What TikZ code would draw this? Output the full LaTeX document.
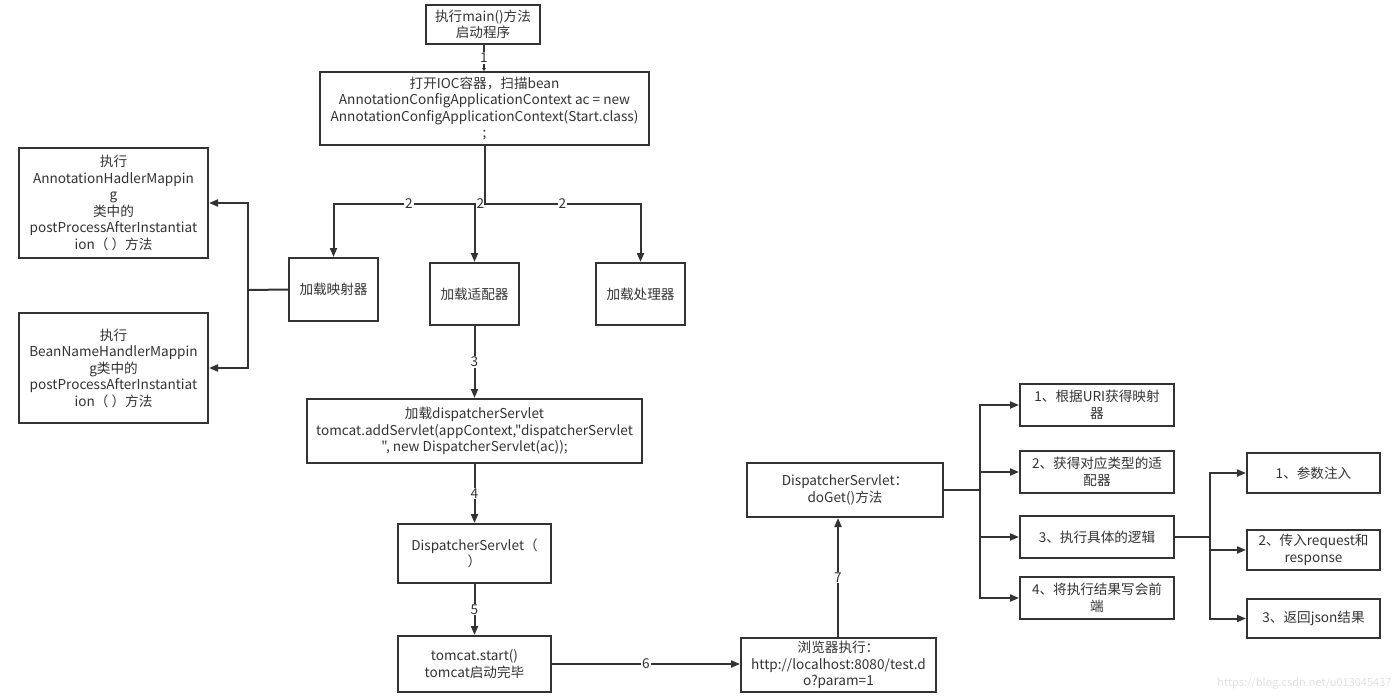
\documentclass[tikz,border=0pt]{standalone}
\usepackage{fontspec}
\setmainfont{Noto Sans CJK SC}[Ligatures=TeXOff]
\usetikzlibrary{arrows.meta}
\definecolor{ln}{HTML}{333333}
\definecolor{tx}{HTML}{333333}
\tikzset{
  box/.style={draw=ln, line width=2pt, fill=white, inner sep=0pt, align=center,
    text=tx, font=\fontsize{13.6}{16.5}\selectfont},
  conn/.style={draw=ln, line width=2pt, -{Triangle[length=9pt,width=7pt]}},
  plain/.style={draw=ln, line width=2pt},
  lbl/.style={fill=white, inner sep=1pt, text=tx, font=\fontsize{13.6}{14}\selectfont},
}
\begin{document}
\begin{tikzpicture}[x=1pt,y=-1pt]
\useasboundingbox (0,0) rectangle (1400,699);
% boxes
\node[box, minimum width=114, minimum height=39] (main) at (483,24.5) {执行main()方法\\启动程序};
\node[box, minimum width=329, minimum height=73] (ioc) at (484.5,108.5) {打开IOC容器，扫描bean\\AnnotationConfigApplicationContext ac = new\\AnnotationConfigApplicationContext(Start.class)\\;};
\node[box, minimum width=189, minimum height=110] (l1) at (113.5,203) {执行\\AnnotationHadlerMappin\\g\\类中的\\postProcessAfterInstantiat\\ion（ ）方法};
\node[box, minimum width=189, minimum height=110] (l2) at (113.5,368) {执行\\BeanNameHandlerMappin\\g类中的\\postProcessAfterInstantiat\\ion（ ）方法};
\node[box, minimum width=89, minimum height=63] (map) at (333.5,289.5) {加载映射器};
\node[box, minimum width=89, minimum height=62] (adp) at (474.5,294) {加载适配器};
\node[box, minimum width=89, minimum height=62] (proc) at (640.5,294) {加载处理器};
\node[box, minimum width=335, minimum height=64] (ds) at (474.5,431) {加载dispatcherServlet\\tomcat.addServlet(appContext,"dispatcherServlet\\", new DispatcherServlet(ac));};
\node[box, minimum width=153, minimum height=59] (dsc) at (474.5,553.5) {DispatcherServlet（\\）};
\node[box, minimum width=153, minimum height=56] (tom) at (474.5,664) {tomcat.start()\\tomcat启动完毕};
\node[box, minimum width=195, minimum height=54] (br) at (838.5,665) {浏览器执行：\\http://localhost:8080/test.d\\o?param=1};
\node[box, minimum width=196, minimum height=54] (doget) at (845,490) {DispatcherServlet：\\doGet()方法};
\node[box, minimum width=154, minimum height=42] (r1) at (1097,405) {1、根据URI获得映射\\器};
\node[box, minimum width=154, minimum height=42] (r2) at (1097,472) {2、获得对应类型的适\\配器};
\node[box, minimum width=154, minimum height=42] (r3) at (1097,537) {3、执行具体的逻辑};
\node[box, minimum width=154, minimum height=42] (r4) at (1097,598) {4、将执行结果写会前\\端};
\node[box, minimum width=133, minimum height=40] (s1) at (1313.5,473) {1、参数注入};
\node[box, minimum width=133, minimum height=40] (s2) at (1313.5,550) {2、传入request和\\response};
\node[box, minimum width=133, minimum height=39] (s3) at (1313.5,618.5) {3、返回json结果};
% junction coordinates
\coordinate (j2) at (484.5,204);
\coordinate (jl) at (248,290);
\coordinate (jr) at (980,490);
\coordinate (js) at (1210,537);
% connectors
\draw[plain, -{Triangle[length=3pt,width=4pt]}] (main.south -| 484,0) -- node[lbl]{1} (ioc.north -| 484,0);
\draw[conn] (ioc.south) -- (j2) -- node[lbl, pos=0.5]{2} (j2 -| map.north) -- (map.north);
\draw[conn] (ioc.south) -- (j2) -- (j2 -| adp.north) node[lbl, pos=1, xshift=6pt]{2} -- (adp.north);
\draw[conn] (ioc.south) -- (j2) -- node[lbl, pos=0.5]{2} (j2 -| proc.north) -- (proc.north);
\draw[plain] (map.west) -- (jl);
\draw[conn] (jl) -- (jl |- l1.east) -- (l1.east);
\draw[conn] (jl) -- (jl |- l2.east) -- (l2.east);
\draw[conn] (adp.south) -- node[lbl]{3} (ds.north -| adp.south);
\draw[conn] (ds.south -| dsc.north) -- node[lbl]{4} (dsc.north);
\draw[conn] (dsc.south) -- node[lbl]{5} (tom.north);
\draw[conn] (tom.east) -- node[lbl]{6} (tom.east -| br.west);
\draw[conn] (br.north -| 838,0) -- node[lbl]{7} (doget.south -| 838,0);
\draw[plain] (doget.east) -- (jr);
\foreach \n in {r1,r2,r3,r4} \draw[conn] (jr) -- (jr |- \n.west) -- (\n.west);
\draw[plain] (r3.east) -- (js);
\foreach \n in {s1,s2,s3} \draw[conn] (js) -- (js |- \n.west) -- (\n.west);
% watermark
\node[text=black!12, font=\fontsize{11}{12}\selectfont, anchor=east] (wm) at (1395,683) {https://blog.csdn.net/u013045437};
\end{tikzpicture}
\end{document}
